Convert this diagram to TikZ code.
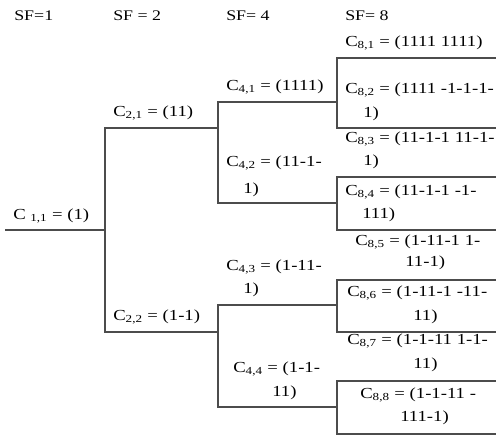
\documentclass[tikz,border=0pt]{standalone}
\usepackage{fontspec}
\setmainfont{Liberation Serif}[FakeStretch=1.22]
\usepackage{tikz}
\tikzset{
  branch/.style={line width=0.8pt, draw=black!70, line cap=butt, line join=miter},
  code/.style={anchor=west, inner sep=0pt, font=\fontsize{11.5}{14}\selectfont},
  sflabel/.style={anchor=west, inner sep=0pt, font=\fontsize{11}{13}\selectfont},
}

\begin{document}
\begin{tikzpicture}[x=0.75pt, y=-0.75pt]
\useasboundingbox (0,0) rectangle (496,435);
\coordinate (root) at (5,230);
\coordinate (s2) at (105,230);
\coordinate (b21) at (105,128);
\coordinate (b22) at (105,332);
\coordinate (e21) at (218,128);
\coordinate (e22) at (218,332);
\coordinate (b41) at (218,102);
\coordinate (b42) at (218,203);
\coordinate (b43) at (218,305);
\coordinate (b44) at (218,407);
\coordinate (e41) at (337,102);
\coordinate (e42) at (337,203);
\coordinate (e43) at (337,305);
\coordinate (e44) at (337,407);
\coordinate (b81) at (337,58);
\coordinate (b82) at (337,128);
\coordinate (b83) at (337,177);
\coordinate (b84) at (337,230);
\coordinate (b85) at (337,280);
\coordinate (b86) at (337,332);
\coordinate (b87) at (337,381);
\coordinate (b88) at (337,434);
\coordinate (e81) at (496,58);
\coordinate (e82) at (496,128);
\coordinate (e83) at (496,177);
\coordinate (e84) at (496,230);
\coordinate (e85) at (496,280);
\coordinate (e86) at (496,332);
\coordinate (e87) at (496,381);
\coordinate (e88) at (496,434);
\draw[branch] (root) -- (s2);
\draw[branch] (e21) -- (b21) -- (b22) -- (e22);
\draw[branch] (e41) -- (b41) -- (b42) -- (e42);
\draw[branch] (e43) -- (b43) -- (b44) -- (e44);
\draw[branch] (e81) -- (b81) -- (b82) -- (e82);
\draw[branch] (e83) -- (b83) -- (b84) -- (e84);
\draw[branch] (e85) -- (b85) -- (b86) -- (e86);
\draw[branch] (e87) -- (b87) -- (b88) -- (e88);
\node[sflabel] (sf1) at (14,16) {SF=1};
\node[sflabel] (sf2) at (113,16) {SF = 2};
\node[sflabel] (sf4) at (226,16) {SF= 4};
\node[sflabel] (sf8) at (345,16) {SF= 8};
\node[code] (c11) at (13,216) {C \textsubscript{1,1} = (1)};
\node[code] (c21) at (113,113) {C\textsubscript{2,1} = (11)};
\node[code] (c22) at (113,317) {C\textsubscript{2,2} = (1-1)};
\node[code] (c41) at (226,87) {C\textsubscript{4,1} = (1111)};
\node[code] (c42) at (226,163) {C\textsubscript{4,2} = (11-1-};
\node[code] (c42b) at (243,190) {1)};
\node[code] (c43) at (226,267) {C\textsubscript{4,3} = (1-11-};
\node[code] (c43b) at (243,290) {1)};
\node[code] (c44) at (233,369) {C\textsubscript{4,4} = (1-1-};
\node[code] (c44b) at (272,393) {11)};
\node[code] (c81) at (345,43) {C\textsubscript{8,1} = (1111 1111)};
\node[code] (c82) at (345,90) {C\textsubscript{8,2} = (1111 -1-1-1-};
\node[code] (c82b) at (363,114) {1)};
\node[code] (c83) at (345,139) {C\textsubscript{8,3} = (11-1-1 11-1-};
\node[code] (c83b) at (363,162) {1)};
\node[code] (c84) at (345,192) {C\textsubscript{8,4} = (11-1-1 -1-};
\node[code] (c84b) at (362,215) {111)};
\node[code] (c85) at (355,242) {C\textsubscript{8,5} = (1-11-1 1-};
\node[code] (c85b) at (405,263) {11-1)};
\node[code] (c86) at (347,293) {C\textsubscript{8,6} = (1-11-1 -11-};
\node[code] (c86b) at (413,317) {11)};
\node[code] (c87) at (347,341) {C\textsubscript{8,7} = (1-1-11 1-1-};
\node[code] (c87b) at (413,365) {11)};
\node[code] (c88) at (360,395) {C\textsubscript{8,8} = (1-1-11 -};
\node[code] (c88b) at (400,418) {111-1)};
\end{tikzpicture}
\end{document}
